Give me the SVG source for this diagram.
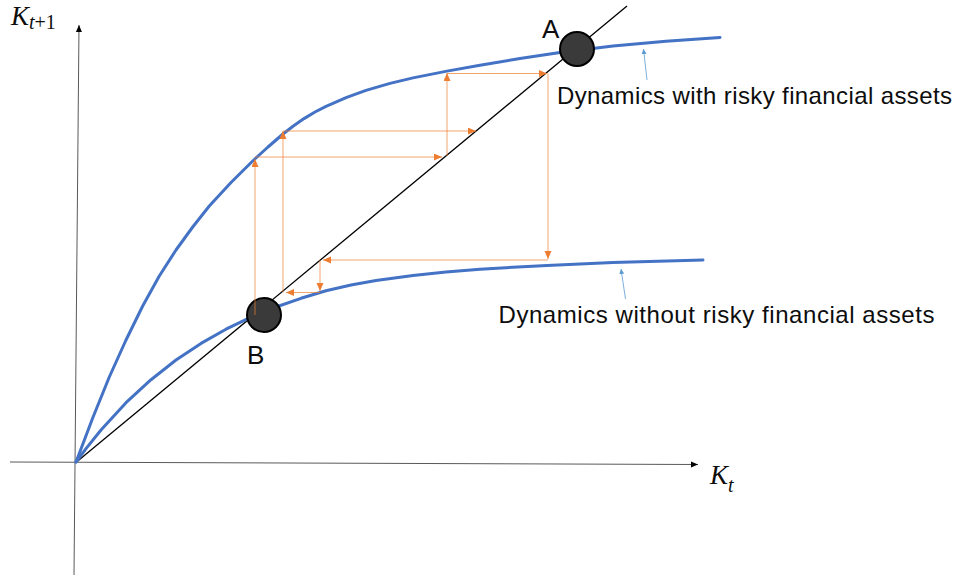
<svg xmlns="http://www.w3.org/2000/svg" width="958" height="579" viewBox="0 0 958 579">
<defs>
<marker id="ah" markerUnits="userSpaceOnUse" markerWidth="8" markerHeight="8" refX="7" refY="3" orient="auto"><path d="M0,0 L7,3 L0,6 z" fill="#000"/></marker>
<marker id="oh" markerUnits="userSpaceOnUse" markerWidth="9" markerHeight="8" refX="8" refY="3.5" orient="auto"><path d="M0,0 L8,3.5 L0,7 z" fill="#ED7D31"/></marker>
<marker id="bh" markerUnits="userSpaceOnUse" markerWidth="6" markerHeight="6" refX="5" refY="2.5" orient="auto"><path d="M0,0 L5,2.5 L0,5 z" fill="#5B9BD5"/></marker>
<style>
.axis{stroke:#595959;stroke-width:1;fill:none}
.curve{stroke:#4472C4;stroke-width:3;fill:none;stroke-linecap:round;stroke-linejoin:round}
.diag{stroke:#000;stroke-width:1.3;fill:none}
.cob{stroke:#ED7D31;stroke-width:1;stroke-opacity:0.7;fill:none}
.ptr{stroke:#5B9BD5;stroke-width:0.8;fill:none}
.pt{fill:#3a3a3a;stroke:#000;stroke-width:2}
.lbl{font-family:"Liberation Sans",Arial,sans-serif;font-size:24px;fill:#0d0d0d}
.pl{font-family:"Liberation Sans",Arial,sans-serif;font-size:26px;fill:#0d0d0d}
.math{font-family:"Liberation Serif","DejaVu Serif",serif;fill:#0d0d0d}
</style>
</defs>
<g id="axes">
<line class="axis" x1="74" y1="575" x2="79" y2="25" marker-end="url(#ah)"/>
<line class="axis" x1="10" y1="462" x2="698" y2="464.5" marker-end="url(#ah)"/>
</g>
<g id="curves">
<line id="diagonal" class="diag" x1="76.5" y1="462" x2="627" y2="6"/>
<path id="upper-curve" class="curve" d="M76,462 L84,441 L92.7,418 L109.3,377 L126,340 L142.7,306 L159.3,276 L176,250 L192.7,227 L209.3,206 L231,182.5 L252.7,161 L268,147 L283,134 L293,126.2 L304,118.6 L315,112 L326,106.3 L346.7,97.4 L366,90.4 L390,83.4 L413,77.9 L447,71.1 L480,65.2 L520,58.6 L560,52.6 L613,46 L666,41.2 L720,37.4"/>
<path id="lower-curve" class="curve" d="M76,462 L86,448.6 L101,430 L126,402.7 L151,379.7 L176,360 L201,343.4 L226,329.2 L251,317.2 L276,307 L301,298.3 L326,290.8 L351,285 L376,280.5 L413,275.5 L446,272 L480,269.2 L547,265.4 L613,262.5 L703,260"/>
</g>
<g id="A"><circle class="pt" cx="577" cy="49" r="17"/><text class="pl" x="542" y="38">A</text></g>
<g id="B"><circle class="pt" cx="264" cy="315" r="17"/><text class="pl" x="247" y="364">B</text></g>
<g id="connectors">
<line class="cob" x1="255" y1="315" x2="255" y2="159" marker-end="url(#oh)"/>
<line class="cob" x1="255" y1="157" x2="442" y2="157" marker-end="url(#oh)"/>
<line class="cob" x1="447" y1="156" x2="447" y2="73" marker-end="url(#oh)"/>
<line class="cob" x1="447" y1="73.5" x2="547" y2="73.5" marker-end="url(#oh)"/>
<line class="cob" x1="548" y1="73.5" x2="548" y2="259" marker-end="url(#oh)"/>
<line class="cob" x1="548" y1="260" x2="323" y2="260" marker-end="url(#oh)"/>
<line class="cob" x1="320" y1="260" x2="320" y2="291" marker-end="url(#oh)"/>
<line class="cob" x1="320" y1="292.5" x2="286" y2="292.5" marker-end="url(#oh)"/>
<line class="cob" x1="283" y1="292.5" x2="283" y2="131" marker-end="url(#oh)"/>
<line class="cob" x1="283" y1="131" x2="476" y2="131" marker-end="url(#oh)"/>
<line class="ptr" x1="647" y1="80" x2="643.5" y2="49" marker-end="url(#bh)"/>
<line class="ptr" x1="625.5" y1="299" x2="621" y2="269" marker-end="url(#bh)"/>
</g>
<g id="label-upper"><text class="lbl" x="557" y="103.5" textLength="395" lengthAdjust="spacing">Dynamics with risky financial assets</text></g>
<g id="label-lower"><text class="lbl" x="498.5" y="322.5" textLength="436" lengthAdjust="spacing">Dynamics without risky financial assets</text></g>
<g id="label-y"><text class="math" x="11" y="25" font-size="27"><tspan font-style="italic">K</tspan><tspan font-size="20" dy="4" font-style="italic">t</tspan><tspan font-size="20">+1</tspan></text></g>
<g id="label-x"><text class="math" x="710" y="483.5" font-size="27"><tspan font-style="italic">K</tspan><tspan font-size="20" dy="8" font-style="italic">t</tspan></text></g>
</svg>
